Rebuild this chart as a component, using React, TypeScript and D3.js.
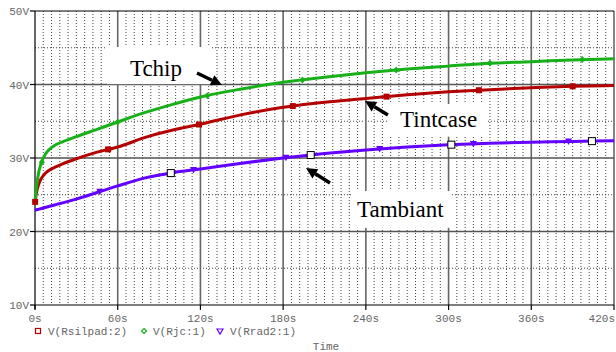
import React from "react";
import * as d3 from "d3";

// sample times (s) and node voltages (V)
const times = [0, 1, 3, 6, 10, 15, 20, 30, 45, 60, 80, 100, 120, 150, 180, 210, 240, 270, 300, 330, 360, 390, 420];
const rsilpad = [23.9, 25.2, 26.6, 27.6, 28.3, 28.8, 29.2, 29.9, 30.8, 31.5, 32.8, 33.8, 34.6, 35.9, 36.9, 37.6, 38.1, 38.6, 39.0, 39.3, 39.55, 39.75, 39.85];
const rjc = [23.9, 26.0, 28.3, 30.0, 31.1, 31.8, 32.2, 32.9, 33.9, 34.9, 36.2, 37.3, 38.3, 39.4, 40.3, 41.0, 41.6, 42.1, 42.5, 42.9, 43.1, 43.35, 43.5];
const rrad2 = [22.9, 22.95, 23.05, 23.2, 23.4, 23.65, 23.9, 24.4, 25.3, 26.2, 27.3, 28.0, 28.5, 29.3, 30.0, 30.6, 31.1, 31.5, 31.8, 32.0, 32.15, 32.25, 32.35];

// marker times for each trace
const rsilpadMarks = [0.1, 53, 119, 187, 255, 322, 390];
const rjcMarks = [5, 60, 125, 194, 262, 330, 397];
const rrad2Marks = [47, 115, 182, 250, 318, 387];
const cursorMarks = [98.5, 200, 302, 404];

const xTicks = [0, 60, 120, 180, 240, 300, 360, 420];
const yTicks = [10, 20, 30, 40, 50];
const legendNames = ["V(Rsilpad:2)", "V(Rjc:1)", "V(Rrad2:1)"];

const W = 616, H = 352;
const left = 35, top = 11, right = 614, bottom = 305;
const mono = "'Liberation Mono', 'DejaVu Sans Mono', monospace";
const serif = "'Liberation Serif', 'DejaVu Serif', serif";

const RED = "#b40000", GREEN = "#18b018", BLUE = "#6400ff";

// annotations in data units: label, text pos, box, arrow tail -> tip
const notes = [
  { label: "Tchip", tx: 68.9, ty: 41.2, box: [52.2, 45.1, 127, 40.05], arrow: [117.5, 41.56, 135.6, 39.93] },
  { label: "Tintcase", tx: 264.8, ty: 34.2, box: [255.3, 37.35, 328.6, 32.9], arrow: [256, 35.85, 239.4, 37.76] },
  { label: "Tambiant", tx: 233.6, ty: 21.97, box: [230, 25.5, 301, 20.5], arrow: [214, 26.6, 196.6, 28.64] },
];

function valueAt(vals: number[], t: number) {
  const i = Math.min(Math.max(d3.bisectLeft(times, t), 1), times.length - 1);
  const t0 = times[i - 1], t1 = times[i];
  return vals[i - 1] + (vals[i] - vals[i - 1]) * (t - t0) / (t1 - t0);
}

export default function App() {
  const x = d3.scaleLinear().domain([0, 420]).range([left, right]);
  const y = d3.scaleLinear().domain([10, 50]).range([bottom, top]);

  const line = d3.line<number>()
    .x((_, i) => x(times[i]))
    .y(v => y(v))
    .curve(d3.curveMonotoneX);

  const minorX = d3.range(6, 420, 6).filter(t => t % 60 !== 0);
  const minorY = [15, 25, 35, 45];

  const arrow = (a: number[], k: number) => {
    const x0 = x(a[0]), y0 = y(a[1]), x1 = x(a[2]), y1 = y(a[3]);
    const ang = Math.atan2(y1 - y0, x1 - x0);
    const hl = 11, hw = 5.5;
    const bx = x1 - hl * Math.cos(ang), by = y1 - hl * Math.sin(ang);
    const px = -Math.sin(ang) * hw, py = Math.cos(ang) * hw;
    return (
      <g key={"a" + k}>
        <line x1={x0} y1={y0} x2={bx} y2={by} stroke="#000" strokeWidth={3.5} />
        <polygon points={`${x1},${y1} ${bx + px},${by + py} ${bx - px},${by - py}`} fill="#000" />
      </g>
    );
  };

  return (
    <svg width={W} height={H} style={{ position: "absolute", left: 0, top: 0, background: "#fff" }}>
      <rect x={0} y={0} width={W} height={H} fill="#fff" />
      {/* grid */}
      {minorX.map(t => (
        <line key={"mx" + t} x1={x(t)} x2={x(t)} y1={top} y2={bottom} stroke="#444" strokeWidth={1} strokeDasharray="1,2" />
      ))}
      {minorY.map(v => (
        <line key={"my" + v} x1={left} x2={right} y1={y(v)} y2={y(v)} stroke="#444" strokeWidth={1} strokeDasharray="1,2" />
      ))}
      {xTicks.slice(1).map(t => (
        <line key={"gx" + t} x1={x(t)} x2={x(t)} y1={top} y2={bottom} stroke="#666" strokeWidth={1.6} />
      ))}
      {[20, 30, 40].map(v => (
        <line key={"gy" + v} x1={left} x2={right} y1={y(v)} y2={y(v)} stroke="#555" strokeWidth={1.6} />
      ))}
      {/* annotation boxes hide grid */}
      {notes.map(n => (
        <rect key={"b" + n.label} x={x(n.box[0])} y={y(n.box[1])} width={x(n.box[2]) - x(n.box[0])} height={y(n.box[3]) - y(n.box[1])} fill="#fff" />
      ))}
      {/* axes */}
      <line x1={left} x2={right} y1={top} y2={top} stroke="#000" strokeWidth={1.2} />
      <line x1={left} x2={right} y1={bottom} y2={bottom} stroke="#000" strokeWidth={1.2} />
      <line x1={left} x2={left} y1={top} y2={bottom + 4} stroke="#000" strokeWidth={1.2} />
      {yTicks.map(v => (
        <g key={"yt" + v}>
          <line x1={left - 5} x2={left} y1={y(v)} y2={y(v)} stroke="#000" strokeWidth={1.2} />
          <text x={left - 6} y={y(v) + 4} textAnchor="end" fontFamily={mono} fontSize={11} fill="#666">{v + "V"}</text>
        </g>
      ))}
      {xTicks.map((t, i) => {
        const last = i === xTicks.length - 1;
        return (
          <g key={"xt" + t}>
            <line x1={x(t)} x2={x(t)} y1={bottom} y2={bottom + 5} stroke="#000" strokeWidth={1.2} />
            <text x={last ? W - 1 : x(t)} y={bottom + 17} textAnchor={last ? "end" : "middle"} fontFamily={mono} fontSize={11} fill="#666">{t + "s"}</text>
          </g>
        );
      })}
      {/* traces */}
      <path d={line(rsilpad) || ""} fill="none" stroke={RED} strokeWidth={3} />
      <path d={line(rjc) || ""} fill="none" stroke={GREEN} strokeWidth={3} />
      <path d={line(rrad2) || ""} fill="none" stroke={BLUE} strokeWidth={3} />
      {rsilpadMarks.map(t => (
        <rect key={"rm" + t} x={x(t) - 3} y={y(valueAt(rsilpad, t)) - 3} width={6} height={6} fill={RED} />
      ))}
      {rjcMarks.map(t => {
        const cx = x(t), cy = y(valueAt(rjc, t));
        return <polygon key={"gm" + t} points={`${cx},${cy - 3.5} ${cx + 3},${cy} ${cx},${cy + 3.5} ${cx - 3},${cy}`} fill={GREEN} />;
      })}
      {rrad2Marks.map(t => {
        const cx = x(t), cy = y(valueAt(rrad2, t));
        return <polygon key={"bm" + t} points={`${cx - 3.5},${cy - 3} ${cx + 3.5},${cy - 3} ${cx},${cy + 3.5}`} fill={BLUE} />;
      })}
      {cursorMarks.map(t => (
        <rect key={"cm" + t} x={x(t) - 3.5} y={y(valueAt(rrad2, t)) - 3.5} width={7} height={7} fill="#fff" stroke="#000" strokeWidth={1} />
      ))}
      {/* annotations */}
      {notes.map(n => (
        <text key={"t" + n.label} x={x(n.tx)} y={y(n.ty)} fontFamily={serif} fontSize={23} fill="#000">{n.label}</text>
      ))}
      {notes.map((n, k) => arrow(n.arrow, k))}
      {/* legend */}
      <rect x={35.5} y={328.5} width={5} height={5} fill="none" stroke={RED} strokeWidth={1.2} />
      <text x={48} y={335} fontFamily={mono} fontSize={11} fill="#666">{legendNames[0]}</text>
      <polygon points="144,328.5 146.5,331 144,333.5 141.5,331" fill="none" stroke={GREEN} strokeWidth={1.2} />
      <text x={153} y={335} fontFamily={mono} fontSize={11} fill="#666">{legendNames[1]}</text>
      <polygon points="217,329 223,329 220,334" fill="none" stroke={BLUE} strokeWidth={1.2} />
      <text x={230} y={335} fontFamily={mono} fontSize={11} fill="#666">{legendNames[2]}</text>
      <text x={326} y={350} textAnchor="middle" fontFamily={mono} fontSize={11} fill="#666">Time</text>
    </svg>
  );
}
